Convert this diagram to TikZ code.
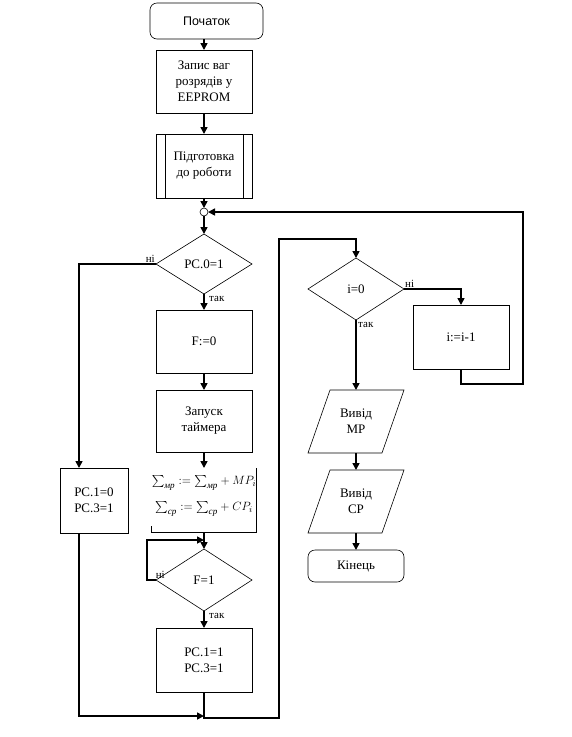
\documentclass[tikz,border=0pt]{standalone}
\usepackage{amsmath}
\usepackage{fontspec}
\setmainfont{Liberation Serif}
\newfontfamily\arialf{Liberation Sans}
\usetikzlibrary{shapes.geometric,arrows.meta}
\newcommand{\bigsumsub}[1]{{\textstyle\sum}_{\textit{#1}}}
\begin{document}
\begin{tikzpicture}[x=1pt,y=-1pt,
  every node/.style={font=\fontsize{13}{16}\selectfont},
  box/.style={draw,line width=0.6pt,rectangle,inner sep=0pt,outer sep=0pt,minimum width=96pt,minimum height=63pt,align=center},
  term/.style={box,rounded corners=7pt},
  ifbox/.style={draw,line width=0.6pt,diamond,inner sep=0pt,outer sep=0pt,minimum width=96pt,minimum height=61pt},
  ghost/.style={inner sep=0pt,outer sep=0pt,minimum width=96pt,minimum height=63pt,align=center},
  arr/.style={line width=1.6pt,-{Triangle[length=7pt,width=7pt]}},
  lbl/.style={font=\fontsize{11}{12}\selectfont,inner sep=1pt}]
\useasboundingbox (0,0) rectangle (571,737);
\fill[white] (0,0) rectangle (571,737);

\node[term,minimum width=113pt,minimum height=36pt] (start) at (206.5,21) {\arialf\fontsize{12.5}{15}\selectfont Початок};
\node[box] (zapys) at (204,81.5) {Запис ваг\\розрядів у\\EEPROM};
\node[box,minimum height=64pt] (pidg) at (204,166) {Підготовка\\до роботи};
\draw[line width=0.6pt] ([xshift=9pt]pidg.north west) -- ([xshift=9pt]pidg.south west)
  ([xshift=-9pt]pidg.north east) -- ([xshift=-9pt]pidg.south east);
\node[draw,circle,line width=0.6pt,minimum size=8pt,inner sep=0pt,outer sep=0pt] (c) at (204,212) {};
\node[ifbox,minimum height=60pt] (d1) at (204,264) {PC.0=1};
\node[box] (f0) at (204,341.5) {F:=0};
\node[box,minimum height=62pt] (timer) at (204,421) {Запуск\\таймера};
\node[ghost,minimum height=64pt] (sum) at (204,496)
  {$\bigsumsub{мр}:=\bigsumsub{мр}+MP_i$\\[10pt]$\bigsumsub{ср}:=\bigsumsub{ср}+CP_i$};
\draw[line width=0.6pt] ([yshift=-4pt]sum.north east) -- ([yshift=-4pt]sum.south east) -- ([yshift=-4pt]sum.south west) -- ([yshift=2pt]sum.south west);
\coordinate (sumb) at ([yshift=-4pt]sum.south);
\node[ifbox,minimum height=62pt] (d2) at (204,580) {F=1};
\node[box,minimum height=64pt] (pc11) at (204,660) {PC.1=1\\PC.3=1};
\node[box,minimum width=68pt,minimum height=65pt] (pc10) at (94,500.5) {PC.1=0\\PC.3=1};

\node[ifbox,minimum height=62pt] (d3) at (356,289) {i=0};
\node[box,minimum height=64pt] (dec) at (461,337) {i:=i-1};
\node[ghost] (out1) at (356,421.5) {Вивід\\MP};
\draw[line width=0.6pt] ([xshift=22pt]out1.north west) -- (out1.north east) -- ([xshift=-22pt]out1.south east) -- (out1.south west) -- cycle;
\node[ghost] (out2) at (356,501.5) {Вивід\\CP};
\draw[line width=0.6pt] ([xshift=22pt]out2.north west) -- (out2.north east) -- ([xshift=-22pt]out2.south east) -- (out2.south west) -- cycle;
\node[term,minimum height=32pt] (end) at (356,566) {Кінець};

\coordinate (b1) at (279,718);
\coordinate (b2) at (279,239);
\coordinate (r1) at (523,212);

% connectors
\draw[arr] (start.south -| zapys.north) -- (zapys.north);
\draw[arr] (zapys.south) -- (pidg.north);
\draw[arr] (pidg.south) -- (c.north);
\draw[arr] (c.south) -- (d1.north);
\draw[arr] (d1.west) -| ([xshift=-15pt]pc10.north);
\draw[arr] (d1.south) -- (f0.north);
\draw[arr] (f0.south) -- (timer.north);
\draw[arr] (timer.south) -- ([yshift=-4pt]sum.north);
\draw[arr] (sumb) -- (d2.north);
\draw[arr] (d2.west) -- ++(-9,0) |- ([yshift=9pt]d2.north);
\draw[arr] (d2.south) -- (pc11.north);
\draw[arr] ([xshift=-15pt]pc10.south) |- ([yshift=-24pt]pc11.south);
\draw[arr] (pc11.south) |- (b1) -- (b2) -| (d3.north);
\draw[arr] (d3.east) -| (dec.north);
\draw[arr] (dec.south) -- ++(0,15) -| (r1) -- (c.east);
\draw[arr] (d3.south) -- (out1.north);
\draw[arr] (out1.south) -- (out2.north);
\draw[arr] (out2.south) -- (end.north);

% labels
\node[lbl,above left] at (d1.west) {ні};
\node[lbl,below right,xshift=4pt,yshift=-1pt] at (d1.south) {так};
\node[lbl,above left,xshift=10pt] at (d2.west) {ні};
\node[lbl,below right,xshift=4pt,yshift=-1pt] at (d2.south) {так};
\node[lbl,above right] at (d3.east) {ні};
\node[lbl,below right,xshift=1pt,yshift=-1pt] at (d3.south) {так};
\end{tikzpicture}
\end{document}
